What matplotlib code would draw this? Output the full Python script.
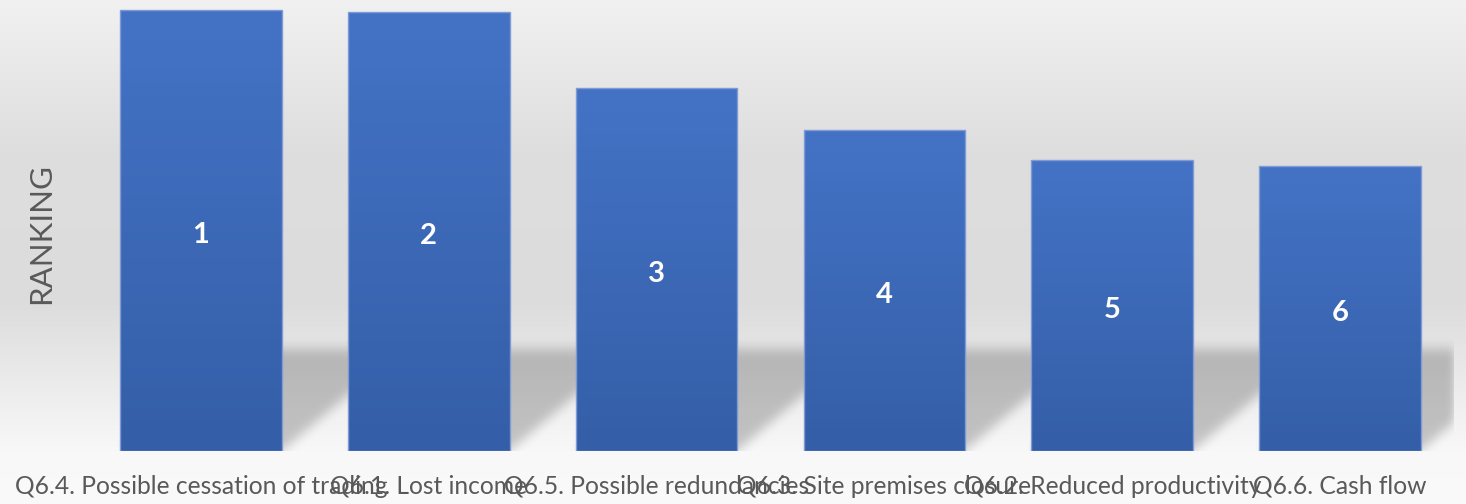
import numpy as np
import matplotlib
matplotlib.use("Agg")
import matplotlib.pyplot as plt

# ranking data (bar heights, arbitrary units)
categories = [
    "Q6.4. Possible cessation of trading",
    "Q6.1. Lost income",
    "Q6.5. Possible redundancies",
    "Q6.3. Site premises closure",
    "Q6.2. Reduced productivity",
    "Q6.6. Cash flow",
]
scores = [4.41, 4.39, 3.63, 3.21, 2.91, 2.85]
ranks = [1, 2, 3, 4, 5, 6]

W, H = 1466, 504
plt.rcParams["font.family"] = ["Lato", "DejaVu Sans"]

fig = plt.figure(figsize=(W / 100, H / 100), dpi=100)

# background: soft vertical grey gradient
bg = fig.add_axes([0, 0, 1, 1], zorder=-10)
rows = np.arange(H)
grey = np.interp(rows, [0, 150, 300, 451, 504], [241, 222, 220, 248, 250]) / 255
bg.imshow(np.repeat(grey[:, None, None], 3, axis=2), aspect="auto",
          extent=[0, 1, 0, 1], origin="upper")
bg.set_axis_off()

ax = fig.add_axes([87 / W, 53 / H, (1454 - 87) / W, 451 / H])
ax.set_facecolor("none")
x = np.arange(len(categories))
width = 0.71
ymax = 4.51

# perspective shadow behind the bars
nx, ny = 1367, 451
xs = np.linspace(-0.5, len(categories) - 0.5, nx)
ys = np.linspace(0, ymax, ny)
X, Y = np.meshgrid(xs, ys)
sh_top, sh_shift = 1.02, 0.53
frac = Y / sh_top
mask = np.zeros_like(X)
for xi in x:
    inside = (Y <= sh_top) & (X >= xi - width / 2 + sh_shift * frac) & \
             (X <= xi + width / 2 + sh_shift * frac)
    mask[inside] = 1.0


def blur(a, sigma, axis):
    k = np.arange(-3 * sigma, 3 * sigma + 1)
    g = np.exp(-k ** 2 / (2 * sigma ** 2))
    g /= g.sum()
    return np.apply_along_axis(lambda m: np.convolve(m, g, mode="same"), axis, a)


mask = blur(mask, 6, 0)
mask = blur(mask, 4, 1)
shadow = np.zeros((ny, nx, 4))
shadow[..., 3] = mask * 0.21
ax.imshow(shadow, extent=[xs[0], xs[-1], 0, ymax], origin="lower",
          aspect="auto", zorder=1, interpolation="bilinear")

# gradient filled bars
top_c = np.array([68, 115, 198]) / 255
bot_c = np.array([52, 94, 167]) / 255
t = np.linspace(0, 1, 200)[:, None]
grad = (bot_c[None, :] * (1 - t) + top_c[None, :] * t)[:, None, :]
for xi, v in zip(x, scores):
    ax.imshow(grad, extent=[xi - width / 2, xi + width / 2, 0, v],
              origin="lower", aspect="auto", zorder=2)
ax.bar(x, scores, width=width, color="none", edgecolor="#7f9bd6",
       linewidth=1, zorder=3)
ax.set_xlim(-0.5, len(categories) - 0.5)
ax.set_ylim(0, ymax)

for xi, v, r in zip(x, scores, ranks):
    ax.annotate(str(r), (xi, v / 2), xytext=(0, -3), textcoords="offset points",
                ha="center", va="center", color="white",
                fontsize=21, fontweight="bold", zorder=4)

ax.set_xticks(x, categories, fontsize=17.7, color="#595959")
ax.tick_params(axis="x", length=0, pad=17)
ax.set_yticks([])
for s in ax.spines.values():
    s.set_visible(False)

fig.text(41 / W, 1 - 234 / H, "RANKING", rotation=90, ha="center",
         va="center", fontsize=22.5, color="#595959")

fig.savefig("out.png", dpi=100)
